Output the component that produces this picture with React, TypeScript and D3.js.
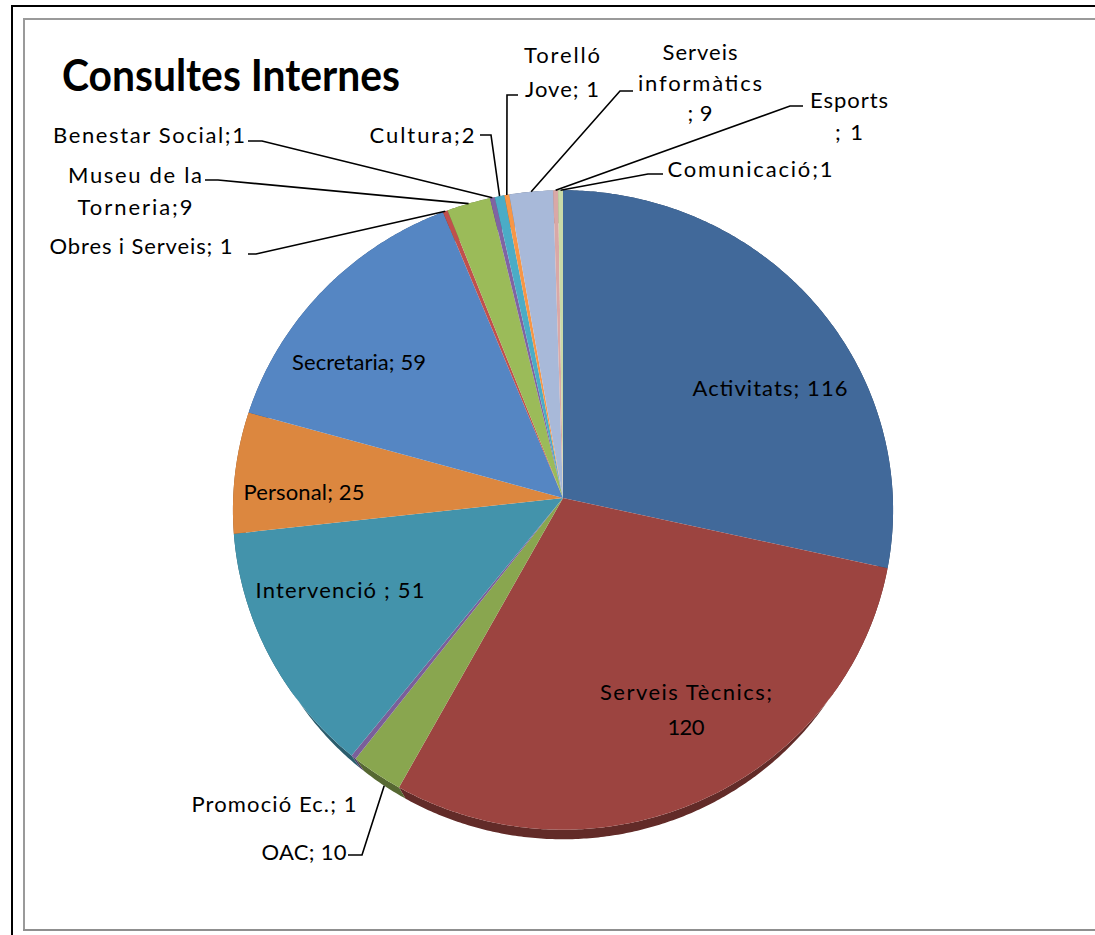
import React from 'react';
import * as d3 from 'd3';

// ---- data ----
const categories = [
  'Activitats', 'Serveis Tècnics', 'OAC', 'Promoció Ec.', 'Intervenció', 'Personal', 'Secretaria',
  'Obres i Serveis', 'Museu de la Torneria', 'Benestar Social', 'Cultura', 'Torelló Jove',
  'Serveis informàtics', 'Esports', 'Comunicació',
];
const values = [116, 120, 10, 1, 51, 25, 59, 1, 9, 1, 2, 1, 9, 1, 1];
const labelTexts: string[][] = [
  ['Activitats; 116'], ['Serveis Tècnics;', '120'], ['OAC; 10'], ['Promoció Ec.; 1'], ['Intervenció ; 51'],
  ['Personal; 25'], ['Secretaria; 59'], ['Obres i Serveis; 1'], ['Museu de la', 'Torneria;9'],
  ['Benestar Social;1'], ['Cultura;2'], ['Torelló', 'Jove; 1'], ['Serveis', 'informàtics', '; 9'],
  ['Esports', '; 1'], ['Comunicació;1'],
];
const title = 'Consultes Internes';

// ---- styles ----
const colors = [
  '#41699A', '#9C4440', '#89A64F', '#7A5F9A', '#4393AB', '#DC873F', '#5586C3',
  '#C0504D', '#9BBB59', '#8064A2', '#4BACC6', '#F79646', '#A8B9D9', '#D9A8A7', '#C9DAA8',
];

// label layout (centre x, baselines, fitted widths, leader stub)
type LabelLayout = { cx: number; ys: number[]; ws: number[]; stub?: [number, number][] };
const labelLayout: LabelLayout[] = [
  { cx: 770, ys: [396], ws: [155] },
  { cx: 686, ys: [700, 735], ws: [172, 37] },
  { cx: 304, ys: [860], ws: [85], stub: [[348, 855], [362, 855]] },
  { cx: 274, ys: [812], ws: [165] },
  { cx: 340, ys: [598], ws: [169] },
  { cx: 304, ys: [500], ws: [121] },
  { cx: 359, ys: [370], ws: [134] },
  { cx: 141, ys: [254], ws: [183], stub: [[248, 254], [256, 254]] },
  { cx: 135, ys: [183, 215], ws: [134, 115], stub: [[205, 180], [218, 180]] },
  { cx: 149, ys: [143], ws: [192], stub: [[248, 141], [262, 141]] },
  { cx: 422, ys: [143], ws: [105], stub: [[480, 135], [491, 135]] },
  { cx: 562, ys: [63, 97], ws: [76, 74], stub: [[518, 95], [507, 95]] },
  { cx: 700, ys: [60, 91, 121], ws: [75, 124, 25], stub: [[633, 91], [620, 91]] },
  { cx: 849, ys: [108, 140], ws: [78, 28], stub: [[803, 106], [790, 106]] },
  { cx: 750, ys: [177], ws: [165], stub: [[663, 174], [648, 174]] },
];

// 3D projection of a unit pie
const CX = 563, CY = 498;
const F = 2200, DIST = 6.67, SINP = 0.968, COSP = 0.25, H = 0.28;
function project(theta: number, z: number): [number, number] {
  const x = Math.sin(theta), y = Math.cos(theta);
  const depth = DIST + y * COSP - z * SINP;
  return [CX + (F * x) / depth, CY - (F * (y * SINP + z * COSP)) / depth];
}

const FONT = "Lato, 'Open Sans', sans-serif";

export default function App() {
  const data = categories.map((c, i) => ({ name: c, value: values[i], idx: i }));
  const arcs = d3.pie<any>().sort(null).value((d) => d.value).startAngle(0).endAngle(2 * Math.PI)(data);
  const line = d3.line();

  const sample = (a0: number, a1: number, z: number) => {
    const n = Math.max(2, Math.ceil(((a1 - a0) * 180) / Math.PI / 0.5));
    const pts: [number, number][] = [];
    for (let k = 0; k <= n; k++) pts.push(project(a0 + ((a1 - a0) * k) / n, z));
    return pts;
  };

  const sides = arcs.map((a) => {
    const top = sample(a.startAngle, a.endAngle, 0);
    const bot = sample(a.startAngle, a.endAngle, -H).reverse();
    return line([...top, ...bot])! + 'Z';
  });
  const tops = arcs.map((a) => {
    const pts = sample(a.startAngle, a.endAngle, 0);
    return line([[CX, CY], ...pts])! + 'Z';
  });

  return (
    <svg width={1095} height={935} style={{ position: 'absolute', left: 0, top: 0, background: '#fff' }}>
      <rect x={0} y={0} width={1095} height={935} fill="#fff" />
      {/* outer black frame */}
      <line x1={11} y1={6} x2={1095} y2={6} stroke="#000" strokeWidth={2} />
      <line x1={12} y1={5} x2={12} y2={935} stroke="#000" strokeWidth={2} />
      {/* grey chart area frame */}
      <line x1={24} y1={19} x2={1095} y2={19} stroke="#9a9a9a" strokeWidth={2} />
      <line x1={24} y1={18} x2={24} y2={931} stroke="#9a9a9a" strokeWidth={2} />
      <line x1={23} y1={930} x2={1095} y2={930} stroke="#8f8f8f" strokeWidth={2} />

      <text x={62} y={91} fontFamily={FONT} fontWeight={700} fontSize={44} textLength={338} lengthAdjust="spacingAndGlyphs" fill="#000">
        {title}
      </text>

      <g>
        {arcs.map((a, i) => (
          <path key={'s' + i} d={sides[i]} fill={d3.color(colors[i])!.darker(1.3).formatHex()} />
        ))}
        {arcs.map((a, i) => (
          <path key={'t' + i} d={tops[i]} fill={colors[i]} />
        ))}
      </g>

      <g fill="none" stroke="#000" strokeWidth={1.6}>
        {arcs.map((a, i) => {
          const L = labelLayout[i];
          if (!L.stub) return null;
          const mid = (a.startAngle + a.endAngle) / 2;
          const front = Math.cos(mid) < 0;
          const end = project(mid, front ? -H : 0);
          return <path key={'l' + i} d={line([...L.stub, end])!} />;
        })}
      </g>

      <g fontFamily={FONT} fontSize={22} fill="#000" textAnchor="middle">
        {labelTexts.map((lines, i) =>
          lines.map((t, j) => (
            <text key={i + '-' + j} x={labelLayout[i].cx} y={labelLayout[i].ys[j]} textLength={labelLayout[i].ws[j]} lengthAdjust="spacing">
              {t}
            </text>
          ))
        )}
      </g>
    </svg>
  );
}
